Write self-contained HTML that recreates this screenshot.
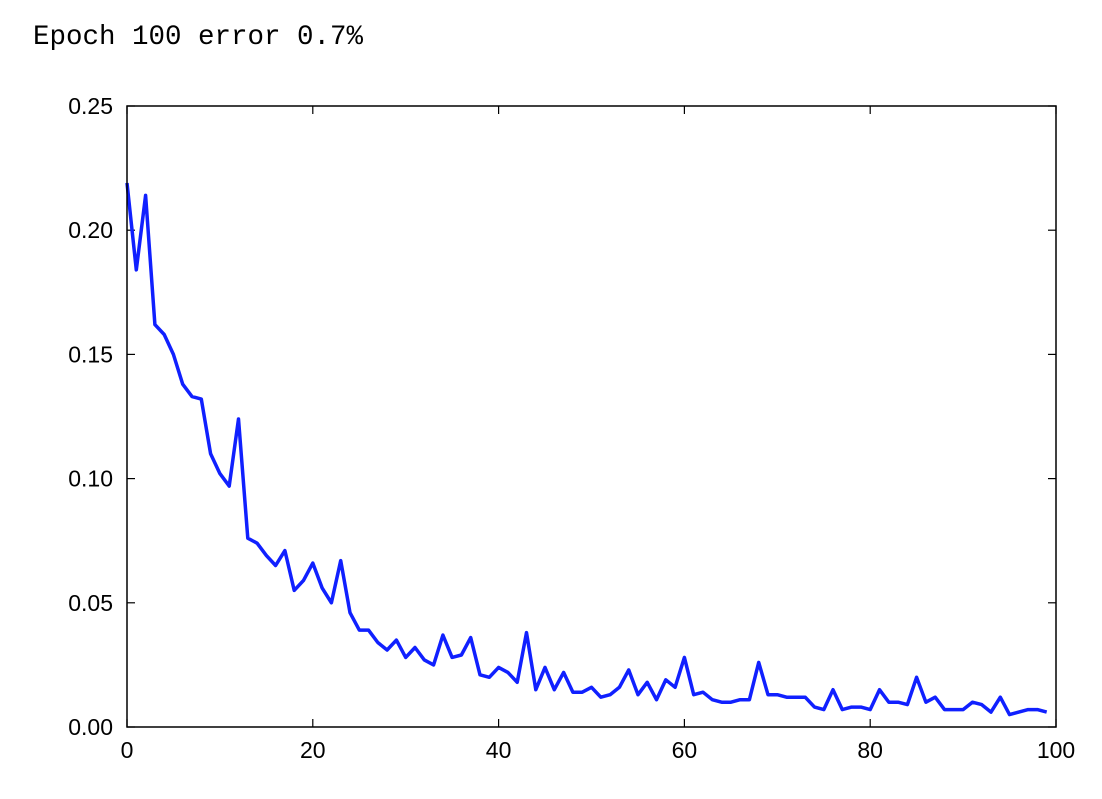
<!DOCTYPE html>
<html><head><meta charset="utf-8"><style>
body{margin:0;background:#fff;width:1102px;height:794px;overflow:hidden}
</style></head><body>
<svg width="1102" height="794">
<text x="33" y="44" font-family="Liberation Mono, monospace" font-size="27.5" fill="#000">Epoch 100 error 0.7%</text>
<g id="axes"></g>
<path id="line" fill="none" stroke="#1020ff" stroke-width="3.5" stroke-linejoin="round"/>
<rect x="127" y="106" width="929" height="621" fill="none" stroke="#000" stroke-width="1.5"/>
</svg>
<script>
const errors=[0.219,0.184,0.214,0.162,0.158,0.150,0.138,0.133,0.132,0.110,0.102,0.097,0.124,0.076,0.074,0.069,0.065,0.071,0.055,0.059,0.066,0.056,0.050,0.067,0.046,0.039,0.039,0.034,0.031,0.035,0.028,0.032,0.027,0.025,0.037,0.028,0.029,0.036,0.021,0.020,0.024,0.022,0.018,0.038,0.015,0.024,0.015,0.022,0.014,0.014,0.016,0.012,0.013,0.016,0.023,0.013,0.018,0.011,0.019,0.016,0.028,0.013,0.014,0.011,0.010,0.010,0.011,0.011,0.026,0.013,0.013,0.012,0.012,0.012,0.008,0.007,0.015,0.007,0.008,0.008,0.007,0.015,0.010,0.010,0.009,0.020,0.010,0.012,0.007,0.007,0.007,0.010,0.009,0.006,0.012,0.005,0.006,0.007,0.007,0.006];
const xTicks=[0,20,40,60,80,100];
const yTicks=[0,0.05,0.10,0.15,0.20,0.25];
const yTickLabels=["0.00","0.05","0.10","0.15","0.20","0.25"];
const X0=127,X1=1056,Y0=727,Y1=106;
const sx=v=>X0+(X1-X0)*v/100;
const sy=v=>Y0-(Y0-Y1)*v/0.25;
const ns="http://www.w3.org/2000/svg";
const g=document.getElementById('axes');
function el(t,a){const e=document.createElementNS(ns,t);for(const k in a)e.setAttribute(k,a[k]);g.appendChild(e);return e;}
xTicks.forEach(v=>{
 const x=sx(v);
 const t1=el('line',{x1:x,x2:x,y1:Y0,y2:Y0-8,stroke:'#000','stroke-width':1.2});
 
 
 const t2=el('line',{x1:x,x2:x,y1:Y1,y2:Y1+8,stroke:'#000','stroke-width':1.2});
 
 
 const tx=el('text',{x:x,y:Y0+31,'text-anchor':'middle','font-family':'Liberation Sans, sans-serif','font-size':23,fill:'#000'});
 tx.textContent=v;
 
 
});
yTicks.forEach((v,i)=>{
 const y=sy(v);
 const t1=el('line',{x1:X0,x2:X0+8,y1:y,y2:y,stroke:'#000','stroke-width':1.2});
 
 
 const t2=el('line',{x1:X1,x2:X1-8,y1:y,y2:y,stroke:'#000','stroke-width':1.2});
 
 
 const tx=el('text',{x:X0-14,y:y+8,'text-anchor':'end','font-family':'Liberation Sans, sans-serif','font-size':23,fill:'#000'});
 tx.textContent=yTickLabels[i];
 
 
});
document.getElementById('line').setAttribute('d',errors.map((v,i)=>(i?'L':'M')+sx(i).toFixed(1)+','+sy(v).toFixed(1)).join(''));
</script>
</body></html>
